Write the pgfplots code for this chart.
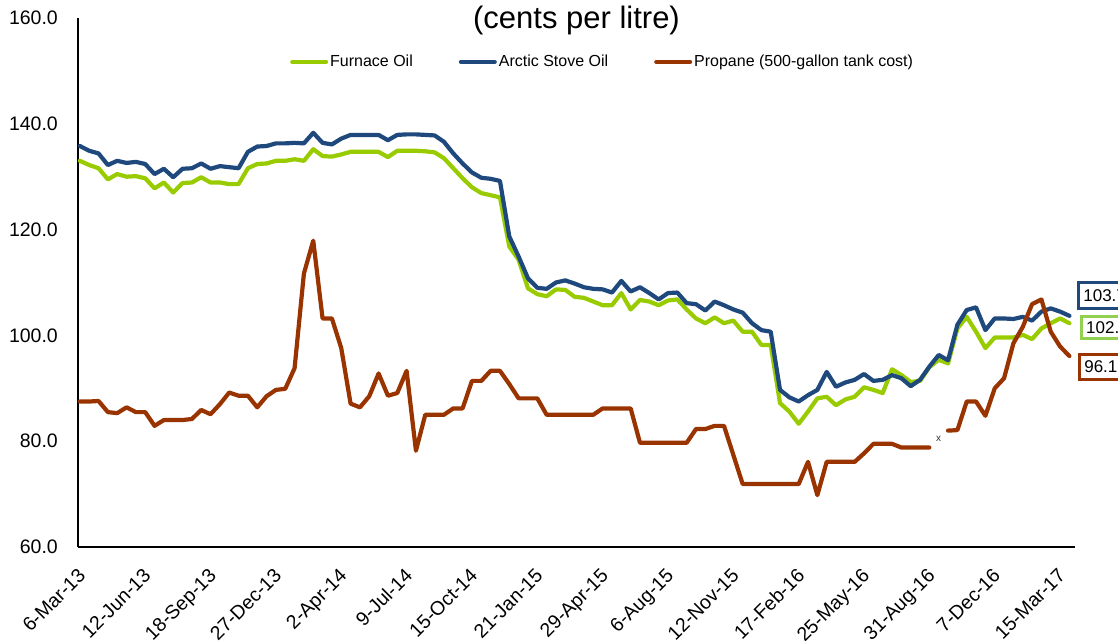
\documentclass[border=0pt]{standalone}
\usepackage{fontspec}
\setmainfont{Liberation Sans}
\usepackage{pgfplots}
\usepackage{pgfplotstable}
\pgfplotsset{compat=1.18}
\definecolor{cgreen}{RGB}{153,204,0}
\definecolor{cblue}{RGB}{31,73,125}
\definecolor{cbrown}{RGB}{153,51,0}
\definecolor{cgreenbox}{RGB}{146,208,80}
\pgfplotstableread{
i f a p
0 133.0 135.8 87.5
1 132.2 134.9 87.5
2 131.6 134.4 87.6
3 129.5 132.2 85.5
4 130.5 133.0 85.3
5 130.0 132.6 86.4
6 130.1 132.8 85.5
7 129.7 132.4 85.5
8 127.8 130.5 82.9
9 128.9 131.5 84.0
10 127.0 129.9 84.0
11 128.8 131.5 84.0
12 128.9 131.6 84.2
13 129.9 132.5 85.9
14 128.9 131.5 85.1
15 128.9 132.0 87.0
16 128.6 131.8 89.2
17 128.6 131.6 88.6
18 131.6 134.7 88.6
19 132.4 135.7 86.4
20 132.5 135.8 88.5
21 133.0 136.3 89.7
22 133.0 136.3 89.9
23 133.3 136.4 93.8
24 133.0 136.3 111.7
25 135.2 138.3 117.9
26 133.9 136.4 103.2
27 133.8 136.1 103.2
28 134.2 137.2 97.6
29 134.7 137.9 87.1
30 134.7 137.9 86.4
31 134.7 137.9 88.5
32 134.7 137.9 92.8
33 133.7 136.9 88.6
34 134.9 137.9 89.1
35 134.9 138.0 93.3
36 134.9 138.0 78.2
37 134.8 137.9 85.0
38 134.6 137.8 85.0
39 133.5 136.6 85.0
40 131.6 134.4 86.2
41 129.7 132.5 86.2
42 128.0 130.8 91.4
43 126.9 129.8 91.4
44 126.5 129.6 93.3
45 126.1 129.2 93.3
46 116.8 118.7 90.8
47 114.3 114.9 88.1
48 108.9 110.8 88.1
49 107.8 109.0 88.1
50 107.4 108.8 85.0
51 108.7 110.0 85.0
52 108.6 110.4 85.0
53 107.3 109.8 85.0
54 107.1 109.1 85.0
55 106.4 108.8 85.0
56 105.7 108.7 86.2
57 105.7 108.1 86.2
58 108.0 110.3 86.2
59 104.9 108.3 86.2
60 106.7 109.1 79.7
61 106.4 108.0 79.7
62 105.7 106.8 79.7
63 106.6 108.0 79.7
64 106.8 108.1 79.7
65 104.9 106.1 79.7
66 103.2 105.9 82.3
67 102.3 104.7 82.3
68 103.4 106.4 82.9
69 102.3 105.7 82.9
70 102.8 104.9 77.4
71 100.7 104.3 71.9
72 100.7 102.3 71.9
73 98.2 101.0 71.9
74 98.2 100.7 71.9
75 87.2 89.7 71.9
76 85.6 88.3 71.9
77 83.3 87.5 71.9
78 85.6 88.7 76.1
79 88.1 89.7 69.8
80 88.4 93.1 76.1
81 86.8 90.3 76.1
82 87.9 91.1 76.1
83 88.4 91.6 76.1
84 90.2 92.7 77.7
85 89.7 91.4 79.5
86 89.1 91.6 79.5
87 93.6 92.5 79.5
88 92.5 91.9 78.8
89 91.2 90.4 78.8
90 91.4 91.6 78.8
91 94.0 94.1 78.8
92 95.4 96.3 nan
93 94.7 95.3 82.0
94 101.3 102.0 82.1
95 103.5 104.8 87.5
96 100.7 105.3 87.5
97 97.6 101.0 84.8
98 99.6 103.2 90.0
99 99.6 103.2 91.9
100 99.6 103.1 98.5
101 100.1 103.5 101.6
102 99.3 102.8 105.9
103 101.3 104.5 106.8
104 102.3 105.1 100.7
105 103.2 104.5 97.9
106 102.3 103.7 96.1
}\datatable
\begin{document}
\begin{tikzpicture}
\begin{axis}[
  at={(0,0)}, anchor=south west,
  width=997bp, height=529bp, scale only axis,
  xmin=-0.2, xmax=106.6,
  ymin=60, ymax=160,
  ytick={60,80,100,120,140,160},
  xtick={0,7,...,105},
  xticklabels={6-Mar-13,12-Jun-13,18-Sep-13,27-Dec-13,2-Apr-14,9-Jul-14,15-Oct-14,21-Jan-15,29-Apr-15,6-Aug-15,12-Nov-15,17-Feb-16,25-May-16,31-Aug-16,7-Dec-16,15-Mar-17},
  axis x line*=bottom, axis y line*=left,
  axis line style={line width=1.8bp, black, -},
  major tick length=0pt,
  /pgf/number format/assume math mode=true,
  yticklabel={\pgfmathprintnumber[fixed, fixed zerofill, precision=1]{\tick}},
  yticklabel style={font=\fontsize{19.5bp}{22bp}\selectfont, inner sep=0pt, anchor=east, xshift=-20bp},
  xticklabel style={font=\fontsize{19.5bp}{22bp}\selectfont, inner sep=0pt, xshift=-3bp, yshift=-20bp, rotate=45, anchor=north east},
  clip=false,
  legend columns=3,
  legend style={draw=none, fill=none, at={(rel axis cs:0.2126,0.917)}, anchor=west,
    font=\fontsize{16bp}{19bp}\selectfont, inner sep=0pt,
    /tikz/every even column/.append style={column sep=44bp}},
  legend image code/.code={\draw[#1, line width=4bp, line cap=round] (0bp,0bp) -- (34bp,0bp);},
  every axis plot/.append style={line width=4.2bp, line join=round, line cap=round},
]
\addplot[cgreen] table[x=i, y=f] {\datatable};
\addlegendentry{Furnace Oil}
\addplot[cblue] table[x=i, y=a] {\datatable};
\addlegendentry{Arctic Stove Oil}
\addplot[cbrown, unbounded coords=jump] table[x=i, y=p] {\datatable};
\addlegendentry{Propane (500-gallon tank cost)}
\node[font=\fontsize{10bp}{12bp}\selectfont, text=black!80] at (axis cs:92,80.5) {x};
\node[anchor=west, draw=cblue, line width=3bp, fill=white, minimum height=26bp, inner xsep=5bp, font=\fontsize{17bp}{20bp}\selectfont] at (axis cs:106.8,107.6) {103.7};
\node[anchor=west, draw=cgreenbox, line width=3bp, fill=white, minimum height=22bp, inner xsep=5bp, font=\fontsize{17bp}{20bp}\selectfont] at (axis cs:107.1,101.5) {102.3};
\node[anchor=west, draw=cbrown, line width=3bp, fill=white, minimum height=25bp, inner xsep=5bp, font=\fontsize{17bp}{20bp}\selectfont] at (axis cs:106.9,94.0) {96.1};
\end{axis}
\node[anchor=base, font=\fontsize{31bp}{36bp}\selectfont] at (498.5bp,518.5bp) {(cents per litre)};
\pgfresetboundingbox
\path[use as bounding box] (-78bp,-94bp) rectangle (1040bp,547bp);
\end{tikzpicture}
\end{document}
